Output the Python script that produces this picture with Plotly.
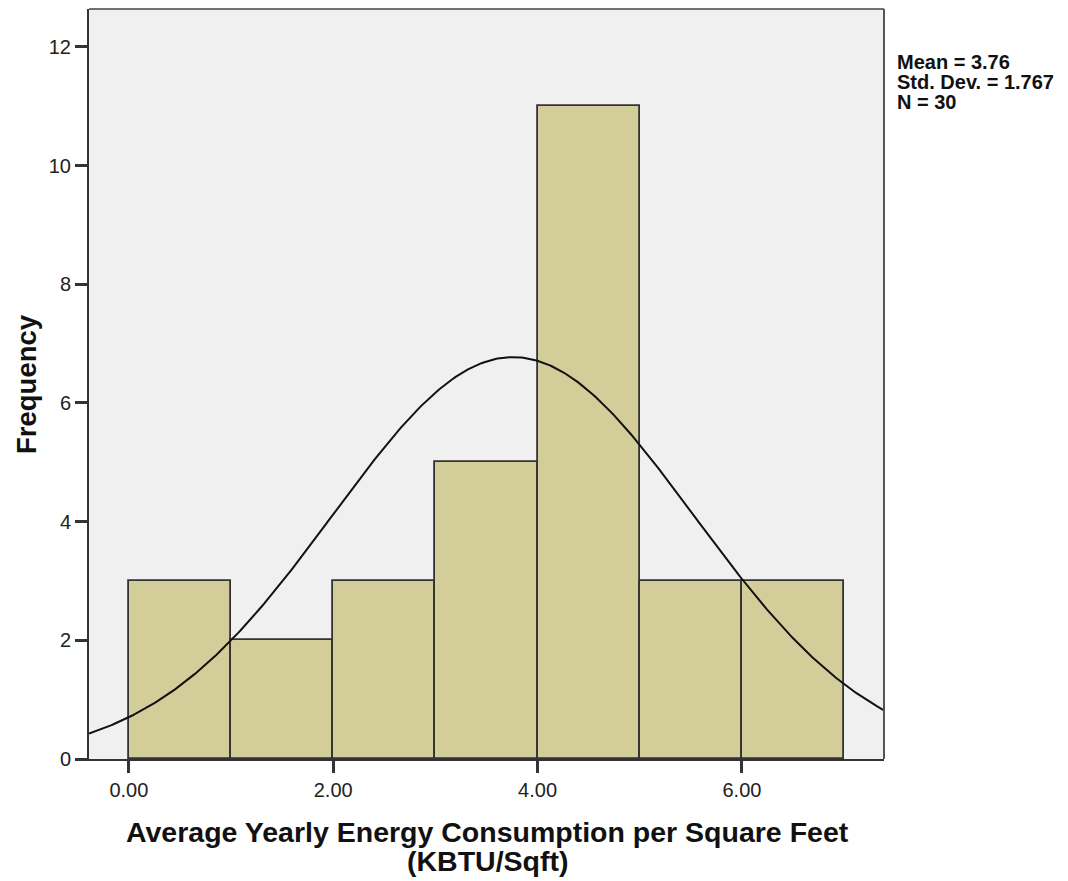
import numpy as np
import plotly.graph_objects as go

# Histogram data (bin edges width 1.0)
bin_left = [0.0, 1.0, 2.0, 3.0, 4.0, 5.0, 6.0]
frequency = [3, 2, 3, 5, 11, 3, 3]
bin_width = 1.0

# Summary statistics shown on chart
MEAN = 3.76
STD_DEV = 1.767
N = 30

x_tick_vals = [0, 2, 4, 6]
x_tick_text = ["0.00", "2.00", "4.00", "6.00"]
y_tick_vals = [0, 2, 4, 6, 8, 10, 12]

x_range = [-0.39, 7.39]
y_range = [0, 12.64]

FONT = "Liberation Sans, Arial, sans-serif"

centers = [b + bin_width / 2 for b in bin_left]

# fitted normal curve (scaled to counts)
xc = np.linspace(x_range[0], x_range[1], 400)
yc = N * bin_width / (STD_DEV * np.sqrt(2 * np.pi)) * np.exp(-0.5 * ((xc - MEAN) / STD_DEV) ** 2)

fig = go.Figure()
fig.add_trace(go.Bar(
    x=centers, y=frequency, width=bin_width,
    marker=dict(color="#D3CE99", line=dict(color="#333333", width=1.8)),
    hoverinfo="skip",
))
fig.add_trace(go.Scatter(
    x=xc, y=yc, mode="lines",
    line=dict(color="#111111", width=2),
    hoverinfo="skip",
))

fig.update_layout(
    width=1060, height=873,
    margin=dict(l=81, r=184, t=1, b=122),
    plot_bgcolor="#F0F0F0",
    paper_bgcolor="white",
    showlegend=False,
    bargap=0,
    font=dict(family=FONT, size=20, color="#222222"),
)
fig.update_xaxes(
    range=x_range, tickvals=x_tick_vals, ticktext=x_tick_text,
    showgrid=False, zeroline=False,
    showline=True, linecolor="#333333", linewidth=2,
    ticks="outside", ticklen=12, tickwidth=2.5, tickcolor="#333333",
    tickfont=dict(family=FONT, size=20, color="#222222"),
)
fig.update_yaxes(
    range=y_range, tickvals=y_tick_vals,
    showgrid=False, zeroline=False,
    showline=True, linecolor="#333333", linewidth=2,
    ticks="outside", ticklen=12, tickwidth=2.5, tickcolor="#333333",
    tickfont=dict(family=FONT, size=20, color="#222222"),
)

# top / right border of plot area
fig.add_shape(type="line", xref="paper", yref="paper", x0=0, x1=1, y0=1, y1=1,
              line=dict(color="#707070", width=2))
fig.add_shape(type="line", xref="paper", yref="paper", x0=1, x1=1, y0=0, y1=1,
              line=dict(color="#555555", width=2))

annos = [
    dict(text="<b>Frequency</b>", x=0, y=0.5, xref="paper", yref="paper",
         xshift=-63, textangle=-90, xanchor="center", yanchor="middle",
         font=dict(family=FONT, size=27.5, color="#111111"), showarrow=False),
    dict(text="<b>Average Yearly Energy Consumption per Square Feet</b>", x=0.501, y=0,
         xref="paper", yref="paper", yshift=-73, xanchor="center", yanchor="middle",
         font=dict(family=FONT, size=28.5, color="#111111"), showarrow=False),
    dict(text="<b>(KBTU/Sqft)</b>", x=0.501, y=0,
         xref="paper", yref="paper", yshift=-102, xanchor="center", yanchor="middle",
         font=dict(family=FONT, size=28.5, color="#111111"), showarrow=False),
]
stats_lines = [f"Mean = {MEAN:.2f}", f"Std. Dev. = {STD_DEV:.3f}", f"N = {N}"]
for i, s in enumerate(stats_lines):
    annos.append(dict(text=f"<b>{s}</b>", x=1, y=1, xref="paper", yref="paper",
                      xshift=11, yshift=-53 - 20 * i, xanchor="left", yanchor="middle",
                      font=dict(family=FONT, size=20, color="#111111"), showarrow=False))
fig.update_layout(annotations=annos)

fig.write_html("out.html")
